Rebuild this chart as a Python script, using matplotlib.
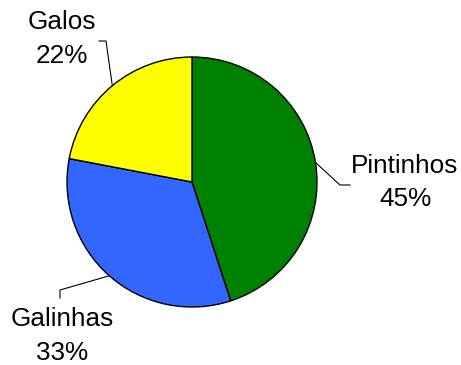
import numpy as np
from matplotlib import pyplot as plt

plt.rcParams['font.family'] = ['Liberation Sans', 'DejaVu Sans']

# dados do grafico
categorias = ['Pintinhos', 'Galinhas', 'Galos']
valores = [45, 33, 22]
cores = ['#008000', '#3366FF', '#FFFF00']

# posicoes dos rotulos (layout, em pixels com y para cima)
pos_texto = [(405, 182.5), (62, 29), (62, 326)]
cotovelos = [[(340, 180), (350, 180)],
             [(60, 75), (60, 67)],
             [(106, 324), (99, 324)]]

fig = plt.figure(figsize=(4.61, 3.65), dpi=100)
ax = fig.add_axes([0, 0, 1, 1])

centro = (192, 183)
raio = 125
wedges, _ = ax.pie(valores, colors=cores, startangle=90, counterclock=False,
                   center=centro, radius=raio, frame=True,
                   wedgeprops=dict(edgecolor='black', linewidth=1.0))
ax.set_xlim(0, 461)
ax.set_ylim(0, 365)
ax.set_aspect('equal')
ax.axis('off')

total = sum(valores)
for w, nome, v, pt, cot in zip(wedges, categorias, valores, pos_texto, cotovelos):
    ang = np.deg2rad((w.theta1 + w.theta2) / 2)
    borda = (centro[0] + raio * np.cos(ang), centro[1] + raio * np.sin(ang))
    xs = [borda[0]] + [c[0] for c in cot]
    ys = [borda[1]] + [c[1] for c in cot]
    ax.plot(xs, ys, color='black', linewidth=0.8)
    ax.text(pt[0], pt[1], '%s\n%d%%' % (nome, round(100.0 * v / total)),
            ha='center', va='center', fontsize=18.8, linespacing=1.5)

fig.savefig('out.png', dpi=100)
